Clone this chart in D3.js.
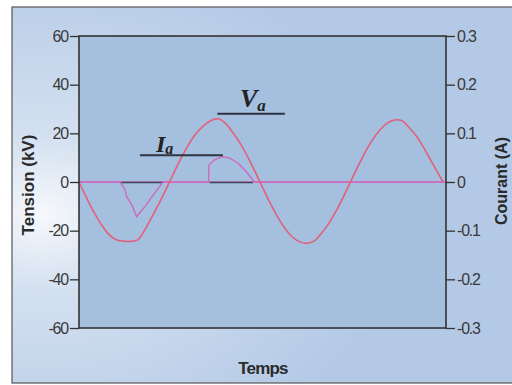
<!DOCTYPE html>
<html><head><meta charset="utf-8">
<script src="https://cdn.jsdelivr.net/npm/d3@7"></script>
<style>html,body{margin:0;padding:0;background:#fff;}svg{display:block;}</style>
</head><body>
<script>
// ---- data ----
const leftTicks = [60, 40, 20, 0, -20, -40, -60];
const leftTickLabels = ["60", "40", "20", "0", "-20", "-40", "-60"];
const rightTicks = [0.3, 0.2, 0.1, 0, -0.1, -0.2, -0.3];
const rightTickLabels = ["0.3", "0.2", "0.1", "0", "-0.1", "-0.2", "-0.3"];
// Voltage (kV) sampled in time units 0..100
const voltTime = [0,2,4,6,8,10,12,14,16,18,20,22,24,26,28,30,32,34,36,38,40,42,44,46,48,50,52,54,56,58,60,62,64,66,68,70,72,74,76,78,80,82,84,86,88,90,92,94,96,98,99.2];
const voltValues = [0,-6.3,-12.2,-17.3,-21.3,-23.6,-24.3,-24.4,-23.8,-19.5,-14.0,-8.3,-2.1,4.3,10.3,15.7,20.1,23.2,25.3,26.0,24.0,20.1,15.7,10.2,4.2,-2.2,-8.4,-14.0,-18.8,-22.4,-24.5,-25.2,-24.3,-21.2,-17.2,-12.1,-6.2,0.1,6.4,12.3,17.4,21.4,24.2,25.5,25.2,22.3,18.7,13.9,8.5,3.2,0];
// Current (A)
const currTime = [0,11.2,12.5,13.0,14.4,15.7,18.0,20.7,22.9,35.3,35.4,36.8,39.0,41.1,43.3,45.5,47.4,48.0,100];
const currValues = [0,0,-0.015,-0.03,-0.047,-0.071,-0.05,-0.022,0,0,0.035,0.045,0.052,0.049,0.039,0.022,0.004,0,0];
// marker segments [t0, t1, value(kV)]
const markerSegments = [[11.2,22.9,0],[35.6,47.4,0]];
const labelLines = [{name:"I", sub:"a", t0:16.6, t1:39.2, v:11}, {name:"V", sub:"a", t0:37.7, t1:56.1, v:28}];

const W = 512, H = 385;
const svg = d3.select("body").append("svg").attr("width", W).attr("height", H);
const defs = svg.append("defs");
const g1 = defs.append("radialGradient").attr("id","bg").attr("cx","0.06").attr("cy","0.55").attr("r","0.7");
g1.append("stop").attr("offset","0").attr("stop-color","#f6f8fc");
g1.append("stop").attr("offset","0.3").attr("stop-color","#d3e0f0");
g1.append("stop").attr("offset","1").attr("stop-color","#b3c9e6");

svg.append("rect").attr("x",12).attr("y",7).attr("width",W).attr("height",376)
  .attr("fill","url(#bg)").attr("stroke","#555").attr("stroke-width",1.2);

const m = {l:79, r:446, t:36, b:328};
const x = d3.scaleLinear().domain([0,100]).range([m.l, m.r]);
const yL = d3.scaleLinear().domain([-60,60]).range([m.b, m.t]);
const yR = d3.scaleLinear().domain([-0.3,0.3]).range([m.b, m.t]);

svg.append("rect").attr("x",m.l).attr("y",m.t).attr("width",m.r-m.l).attr("height",m.b-m.t)
  .attr("fill","#a5bfdf");

// zero line
svg.append("line").attr("x1",x(0)).attr("x2",x(100)).attr("y1",yL(0)).attr("y2",yL(0))
  .attr("stroke","#d86cc8").attr("stroke-width",1.3);

// marker segments
markerSegments.forEach(s=>{
  svg.append("line").attr("x1",x(s[0])).attr("x2",x(s[1])).attr("y1",yL(s[2])+0.5).attr("y2",yL(s[2])+0.5)
    .attr("stroke","#3a4558").attr("stroke-width",1.6);
});

// current
const cData = currTime.map((t,i)=>[t,currValues[i]]);
svg.append("path").datum(cData)
  .attr("d", d3.line().x(d=>x(d[0])).y(d=>yR(d[1])))
  .attr("fill","none").attr("stroke","#cc6ac0").attr("stroke-width",1.4);

// voltage
const vData = voltTime.map((t,i)=>[t,voltValues[i]]);
svg.append("path").datum(vData)
  .attr("d", d3.line().curve(d3.curveCatmullRom).x(d=>x(d[0])).y(d=>yL(d[1])))
  .attr("fill","none").attr("stroke","#e2607a").attr("stroke-width",1.6);

// label lines
labelLines.forEach(l=>{
  svg.append("line").attr("x1",x(l.t0)).attr("x2",x(l.t1)).attr("y1",yL(l.v)).attr("y2",yL(l.v))
    .attr("stroke","#2e3440").attr("stroke-width",2);
});
// labels
const lab1 = svg.append("text").attr("x",156).attr("y",152)
  .attr("font-family","Liberation Serif, serif").attr("font-weight","bold").attr("font-style","italic")
  .attr("font-size",24).attr("fill","#222");
lab1.append("tspan").text("I");
lab1.append("tspan").attr("font-size",16).attr("dy",2).text("a");
const lab2 = svg.append("text").attr("x",240).attr("y",107)
  .attr("font-family","Liberation Serif, serif").attr("font-weight","bold").attr("font-style","italic")
  .attr("font-size",26).attr("fill","#222");
lab2.append("tspan").text("V");
lab2.append("tspan").attr("font-size",17).attr("dy",4).text("a");

// frame
svg.append("rect").attr("x",m.l).attr("y",m.t).attr("width",m.r-m.l).attr("height",m.b-m.t)
  .attr("fill","none").attr("stroke","#333").attr("stroke-width",1.6);

// axes
const axL = svg.append("g").attr("transform",`translate(${m.l},0)`)
  .call(d3.axisLeft(yL).tickValues(leftTicks).tickSize(9).tickPadding(2).tickFormat((d,i)=>leftTickLabels[i]));
const axR = svg.append("g").attr("transform",`translate(${m.r},0)`)
  .call(d3.axisRight(yR).tickValues(rightTicks).tickSize(9).tickPadding(2).tickFormat((d,i)=>rightTickLabels[i]));
[axL, axR].forEach(a=>{
  a.select(".domain").remove();
  a.selectAll(".tick line").attr("stroke","#333").attr("stroke-width",1.3);
  a.selectAll(".tick text").attr("font-family","Liberation Sans, Arial, sans-serif").attr("font-size",16)
    .attr("fill","#3a3a3a").attr("letter-spacing","-1.2px");
});

// titles
svg.append("text").attr("transform","translate(34,185) rotate(-90)").attr("text-anchor","middle")
  .attr("font-family","Liberation Sans, Arial, sans-serif").attr("font-weight","bold").attr("font-size",17)
  .attr("fill","#2a2a2a").text("Tension (kV)");
svg.append("text").attr("transform","translate(507,181) rotate(-90)").attr("text-anchor","middle")
  .attr("font-family","Liberation Sans, Arial, sans-serif").attr("font-weight","bold").attr("font-size",16)
  .attr("fill","#2a2a2a").text("Courant (A)");
svg.append("text").attr("x",263).attr("y",374).attr("text-anchor","middle")
  .attr("font-family","Liberation Sans, Arial, sans-serif").attr("font-weight","bold").attr("font-size",17)
  .attr("fill","#2a2a2a").attr("letter-spacing","-0.8px").text("Temps");
</script>
</body></html>
